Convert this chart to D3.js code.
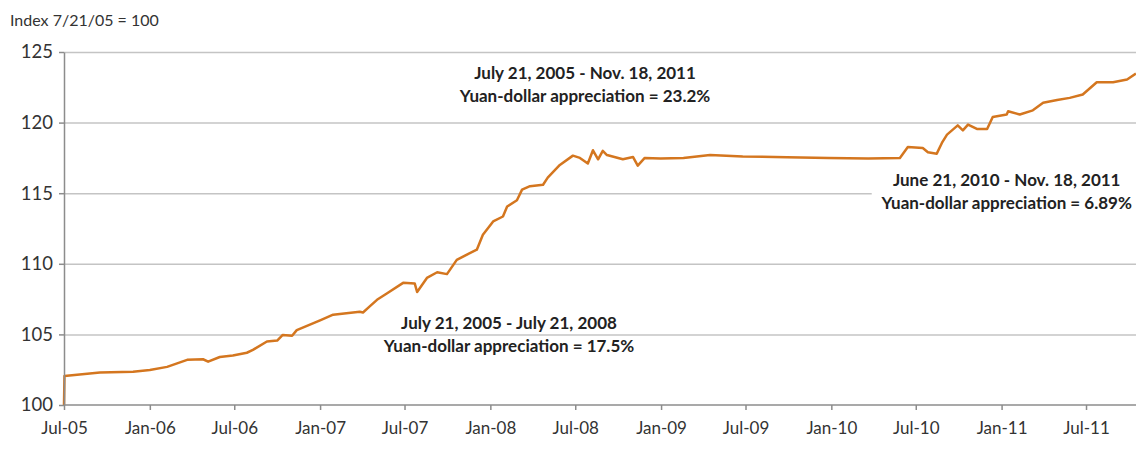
<!DOCTYPE html>
<meta charset="utf-8">
<style> /* set the CSS */

body { margin: 0; background: #fff; }

.line {
  fill: none;
  stroke: #d4761f;
  stroke-width: 2.5px;
  stroke-linejoin: round;
}

.grid line { stroke: #c4c4c4; stroke-width: 1.5px; }
.grid path { display: none; }

.axis path, .axis line { stroke: #8c8c8c; stroke-width: 1.5px; }
.axis text { font-family: Lato, "Open Sans", sans-serif; font-size: 17px; fill: #333; }
.yaxis text { font-size: 18.5px; }

.note { font-family: Lato, "Open Sans", sans-serif; font-size: 17px; font-weight: bold; fill: #222; }
.units { font-family: Lato, "Open Sans", sans-serif; font-size: 16px; fill: #333; }

</style>
<body>

<!-- load the d3.js library -->
<script src="https://d3js.org/d3.v7.min.js"></script>
<script>

// yuan-dollar index (date, index 7/21/05 = 100)
var dates = [
  "2005-07-21", "2005-07-22", "2005-10-06", "2005-12-16", "2006-01-21", "2006-02-27",
  "2006-04-11", "2006-05-15", "2006-05-26", "2006-06-20", "2006-07-18", "2006-08-17",
  "2006-08-30", "2006-09-29", "2006-10-21", "2006-11-02", "2006-11-22", "2006-12-02",
  "2007-01-21", "2007-02-18", "2007-04-16", "2007-04-23", "2007-05-08", "2007-05-23",
  "2007-06-13", "2007-07-18", "2007-08-12", "2007-08-17", "2007-09-07", "2007-09-29",
  "2007-10-20", "2007-11-10", "2007-12-08", "2007-12-23", "2008-01-05", "2008-01-27",
  "2008-02-17", "2008-02-26", "2008-03-18", "2008-03-29", "2008-04-15", "2008-05-13",
  "2008-05-23", "2008-06-18", "2008-07-16", "2008-07-31", "2008-08-17", "2008-08-28",
  "2008-09-08", "2008-09-18", "2008-09-27", "2008-10-31", "2008-11-22", "2008-12-02",
  "2008-12-17", "2009-01-20", "2009-03-10", "2009-05-06", "2009-07-15", "2009-10-18",
  "2010-01-15", "2010-04-10", "2010-06-17", "2010-07-04", "2010-08-05", "2010-08-16",
  "2010-09-04", "2010-09-15", "2010-09-26", "2010-10-19", "2010-10-30", "2010-11-10",
  "2010-11-29", "2010-12-21", "2011-01-02", "2011-02-01", "2011-02-04", "2011-03-01",
  "2011-03-29", "2011-04-20", "2011-05-20", "2011-06-16", "2011-07-14", "2011-08-13",
  "2011-09-17", "2011-10-17", "2011-11-05"
];
var values = [
  100.0, 102.05, 102.3, 102.36, 102.48, 102.7,
  103.2, 103.24, 103.07, 103.4, 103.5, 103.7,
  103.9, 104.5, 104.56, 104.96, 104.9, 105.3,
  106.0, 106.4, 106.6, 106.55, 107.0, 107.45,
  107.9, 108.65, 108.6, 108.0, 109.0, 109.4,
  109.27, 110.28, 110.76, 111.0, 112.06, 113.0,
  113.35, 114.06, 114.5, 115.25, 115.5, 115.6,
  116.1, 117.0, 117.66, 117.5, 117.1, 118.04,
  117.4, 118.0, 117.7, 117.4, 117.56, 116.95,
  117.5, 117.45, 117.5, 117.7, 117.6, 117.55,
  117.5, 117.45, 117.5, 118.27, 118.2, 117.9,
  117.8, 118.56, 119.15, 119.8, 119.45, 119.86,
  119.55, 119.55, 120.4, 120.57, 120.8, 120.57,
  120.87, 121.4, 121.6, 121.75, 121.99, 122.86,
  122.86, 123.05, 123.47
];

// axis ticks
var yTicks = [100, 105, 110, 115, 120, 125];
var xTickDates = [
  "2005-07-21", "2006-01-21", "2006-07-21", "2007-01-21", "2007-07-21", "2008-01-21",
  "2008-07-21", "2009-01-21", "2009-07-21", "2010-01-21", "2010-07-21", "2011-01-21",
  "2011-07-21"
];

// text boxes
var unitsLabel = "Index 7/21/05 = 100";
var notes = [
  { at: ["2008-08-11", 123.08], lines: ["July 21, 2005  - Nov. 18, 2011", "Yuan-dollar appreciation = 23.2%"], box: false },
  { at: ["2008-03-01", 105.38], lines: ["July 21, 2005  - July 21, 2008", "Yuan-dollar appreciation = 17.5%"], box: false },
  { at: ["2011-02-01", 115.5], lines: ["June 21, 2010  - Nov. 18, 2011", "Yuan-dollar appreciation = 6.89%"], box: true }
];

var parseDate = d3.timeParse("%Y-%m-%d");
var data = dates.map(function(d, i) { return { date: parseDate(d), value: values[i] }; });

// set the dimensions of the graph
var width = 1136, height = 450;
var plotLeft = 64, plotBottom = 405, plotTop = 52;

// set the ranges (axis runs on past the right edge of the picture)
var x = d3.scaleTime()
    .domain([parseDate("2005-07-21"), parseDate("2011-11-18")])
    .range([plotLeft, 1142]);
var y = d3.scaleLinear().domain([100, 125]).range([plotBottom, plotTop]);

var svg = d3.select("body").append("svg")
    .attr("width", width)
    .attr("height", height);

// units label
svg.append("text")
    .attr("class", "units")
    .attr("x", 10)
    .attr("y", 26)
    .text(unitsLabel);

// horizontal gridlines
svg.append("g")
    .attr("class", "grid")
    .attr("transform", "translate(" + plotLeft + ",0)")
    .call(d3.axisRight(y).tickValues(yTicks.slice(1)).tickSize(width - plotLeft).tickFormat(""));

// boxes behind the notes that have them
var notesG = svg.append("g");

// the line
var line = d3.line()
    .x(function(d) { return x(d.date); })
    .y(function(d) { return y(d.value); });

svg.append("path")
    .datum(data)
    .attr("class", "line")
    .attr("d", line);

// x axis
var xAxis = svg.append("g")
    .attr("class", "axis")
    .attr("transform", "translate(0," + plotBottom + ")")
    .call(d3.axisBottom(x)
      .tickValues(xTickDates.map(parseDate))
      .tickFormat(d3.timeFormat("%b-%y"))
      .tickSize(5)
      .tickSizeOuter(0)
      .tickPadding(12));
xAxis.select(".domain").attr("d", "M" + plotLeft + ",0H" + width);

// y axis
svg.append("g")
    .attr("class", "axis yaxis")
    .attr("transform", "translate(" + plotLeft + ",0)")
    .call(d3.axisLeft(y)
      .tickValues(yTicks)
      .tickSize(5)
      .tickSizeOuter(0)
      .tickPadding(6));

// annotations
notes.forEach(function(n) {
  var cx = x(parseDate(n.at[0])), cy = y(n.at[1]);
  if (n.box) {
    notesG.append("rect")
        .attr("x", cx - 135).attr("y", cy - 20)
        .attr("width", 270).attr("height", 48)
        .attr("fill", "#fff");
  }
  n.lines.forEach(function(t, i) {
    svg.append("text")
        .attr("class", "note")
        .attr("text-anchor", "middle")
        .attr("x", cx)
        .attr("y", cy + i * 23)
        .text(t);
  });
});

</script>
</body>
